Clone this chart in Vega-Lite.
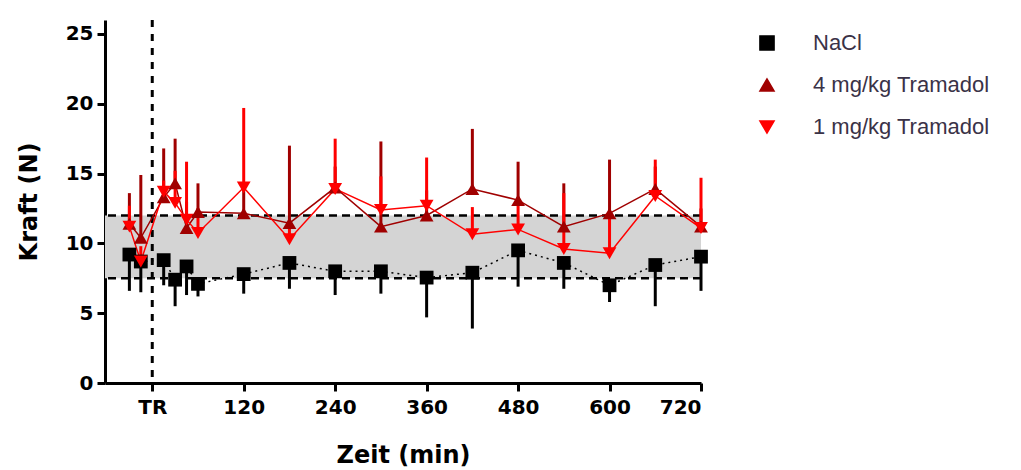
{
  "$schema": "https://vega.github.io/schema/vega-lite/v6.json",
  "width": 596,
  "height": 363,
  "autosize": "none",
  "padding": {"left": 105, "top": 20, "right": 320, "bottom": 87},
  "background": "white",
  "config": {
    "view": {"stroke": null},
    "axis": {
      "grid": false,
      "domainColor": "black",
      "domainWidth": 3,
      "tickColor": "black",
      "tickWidth": 3,
      "tickSize": 8,
      "labelFont": "DejaVu Sans",
      "labelFontWeight": "bold",
      "labelFontSize": 20,
      "labelColor": "black",
      "titleFont": "DejaVu Sans",
      "titleFontWeight": "bold",
      "titleFontSize": 24,
      "titleColor": "black"
    },
    "legend": {
      "orient": "none", "legendX": 651, "legendY": 12, "padding": 0,
      "symbolSize": 200,
      "labelFont": "Liberation Sans", "labelFontSize": 22, "labelColor": "#3a3247",
      "labelOffset": 35, "rowPadding": 20, "labelLimit": 400
    }
  },
  "datasets": {
    "series": [
      {"series": "NaCl", "t": -30, "mean": 9.2, "err": 6.6},
      {"series": "NaCl", "t": -15, "mean": 8.7, "err": 6.5},
      {"series": "NaCl", "t": 15, "mean": 8.8, "err": 7.0},
      {"series": "NaCl", "t": 30, "mean": 7.4, "err": 5.5},
      {"series": "NaCl", "t": 45, "mean": 8.35, "err": 6.3},
      {"series": "NaCl", "t": 60, "mean": 7.1, "err": 6.2},
      {"series": "NaCl", "t": 120, "mean": 7.8, "err": 6.4},
      {"series": "NaCl", "t": 180, "mean": 8.6, "err": 6.75},
      {"series": "NaCl", "t": 240, "mean": 8.0, "err": 6.3},
      {"series": "NaCl", "t": 300, "mean": 8.0, "err": 6.4},
      {"series": "NaCl", "t": 360, "mean": 7.55, "err": 4.7},
      {"series": "NaCl", "t": 420, "mean": 7.9, "err": 3.9},
      {"series": "NaCl", "t": 480, "mean": 9.5, "err": 6.9},
      {"series": "NaCl", "t": 540, "mean": 8.6, "err": 6.75},
      {"series": "NaCl", "t": 600, "mean": 7.0, "err": 5.8},
      {"series": "NaCl", "t": 660, "mean": 8.45, "err": 5.5},
      {"series": "NaCl", "t": 720, "mean": 9.05, "err": 6.6},
      {"series": "4 mg/kg Tramadol", "t": -30, "mean": 11.4, "err": 13.6},
      {"series": "4 mg/kg Tramadol", "t": -15, "mean": 10.4, "err": 14.9},
      {"series": "4 mg/kg Tramadol", "t": 15, "mean": 13.3, "err": 16.8},
      {"series": "4 mg/kg Tramadol", "t": 30, "mean": 14.3, "err": 17.5},
      {"series": "4 mg/kg Tramadol", "t": 45, "mean": 11.1, "err": 13.0},
      {"series": "4 mg/kg Tramadol", "t": 60, "mean": 12.25, "err": 14.3},
      {"series": "4 mg/kg Tramadol", "t": 120, "mean": 12.15, "err": 14.0},
      {"series": "4 mg/kg Tramadol", "t": 180, "mean": 11.45, "err": 17.0},
      {"series": "4 mg/kg Tramadol", "t": 240, "mean": 14.0, "err": 15.5},
      {"series": "4 mg/kg Tramadol", "t": 300, "mean": 11.2, "err": 17.3},
      {"series": "4 mg/kg Tramadol", "t": 360, "mean": 12.0, "err": 13.8},
      {"series": "4 mg/kg Tramadol", "t": 420, "mean": 13.9, "err": 18.2},
      {"series": "4 mg/kg Tramadol", "t": 480, "mean": 13.1, "err": 15.85},
      {"series": "4 mg/kg Tramadol", "t": 540, "mean": 11.2, "err": 14.3},
      {"series": "4 mg/kg Tramadol", "t": 600, "mean": 12.15, "err": 16.0},
      {"series": "4 mg/kg Tramadol", "t": 660, "mean": 13.9, "err": 15.5},
      {"series": "4 mg/kg Tramadol", "t": 720, "mean": 11.2, "err": 12.5},
      {"series": "1 mg/kg Tramadol", "t": -30, "mean": 11.2, "err": 12.7},
      {"series": "1 mg/kg Tramadol", "t": -15, "mean": 8.7, "err": 9.8},
      {"series": "1 mg/kg Tramadol", "t": 15, "mean": 13.7, "err": 14.5},
      {"series": "1 mg/kg Tramadol", "t": 30, "mean": 12.9, "err": 15.2},
      {"series": "1 mg/kg Tramadol", "t": 45, "mean": 11.7, "err": 15.85},
      {"series": "1 mg/kg Tramadol", "t": 60, "mean": 10.75, "err": 12.5},
      {"series": "1 mg/kg Tramadol", "t": 120, "mean": 14.0, "err": 19.7},
      {"series": "1 mg/kg Tramadol", "t": 180, "mean": 10.3, "err": 11.5},
      {"series": "1 mg/kg Tramadol", "t": 240, "mean": 13.9, "err": 17.5},
      {"series": "1 mg/kg Tramadol", "t": 300, "mean": 12.4, "err": 14.8},
      {"series": "1 mg/kg Tramadol", "t": 360, "mean": 12.7, "err": 16.15},
      {"series": "1 mg/kg Tramadol", "t": 420, "mean": 10.65, "err": 12.6},
      {"series": "1 mg/kg Tramadol", "t": 480, "mean": 11.0, "err": 13.3},
      {"series": "1 mg/kg Tramadol", "t": 540, "mean": 9.6, "err": 13.6},
      {"series": "1 mg/kg Tramadol", "t": 600, "mean": 9.3, "err": 12.2},
      {"series": "1 mg/kg Tramadol", "t": 660, "mean": 13.4, "err": 16.0},
      {"series": "1 mg/kg Tramadol", "t": 720, "mean": 11.1, "err": 14.7}
    ],
    "band": [{"lo": 7.5, "hi": 12}],
    "refs": [{"v": 7.5}, {"v": 12}],
    "tr": [{"t": 0}]
  },
  "encoding": {
    "x": {
      "field": "t", "type": "quantitative",
      "scale": {"domain": [-62, 720], "nice": false, "zero": false},
      "axis": {
        "values": [0, 120, 240, 360, 480, 600, 720],
        "labelExpr": "datum.value == 0 ? 'TR' : datum.label",
        "title": "Zeit (min)",
        "labelPadding": 6,
        "titlePadding": 26
      }
    }
  },
  "layer": [
    {
      "data": {"name": "band"},
      "mark": {"type": "rect", "color": "#d4d4d4"},
      "encoding": {
        "x": null,
        "y": {"field": "lo", "type": "quantitative", "scale": {"domain": [0, 25]},
          "axis": {"values": [0, 5, 10, 15, 20, 25], "title": "Kraft (N)", "labelPadding": 4, "titlePadding": 24}},
        "y2": {"field": "hi"}
      }
    },
    {
      "data": {"name": "refs"},
      "mark": {"type": "rule", "color": "black", "strokeWidth": 2.5, "strokeDash": [8, 5]},
      "encoding": {"x": null, "y": {"field": "v", "type": "quantitative"}}
    },
    {
      "data": {"name": "tr"},
      "mark": {"type": "rule", "color": "black", "strokeWidth": 3, "strokeDash": [7, 7]},
      "encoding": {"x": {"field": "t", "type": "quantitative"}}
    },
    {
      "data": {"name": "series"},
      "transform": [{"filter": "datum.series == 'NaCl'"}],
      "mark": {"type": "line", "color": "black", "strokeWidth": 1.5, "strokeDash": [2, 4]},
      "encoding": {"y": {"field": "mean", "type": "quantitative"}}
    },
    {
      "data": {"name": "series"},
      "transform": [{"filter": "datum.series != 'NaCl'"}],
      "mark": {"type": "line", "strokeWidth": 1.5},
      "encoding": {
        "y": {"field": "mean", "type": "quantitative"},
        "color": {"field": "series", "type": "nominal",
          "scale": {"domain": ["NaCl", "4 mg/kg Tramadol", "1 mg/kg Tramadol"], "range": ["#000000", "#a00000", "#ff0000"]}}
      }
    },
    {
      "data": {"name": "series"},
      "mark": {"type": "rule", "strokeWidth": 3},
      "encoding": {
        "y": {"field": "mean", "type": "quantitative"},
        "y2": {"field": "err"},
        "color": {"field": "series", "type": "nominal"}
      }
    },
    {
      "data": {"name": "series"},
      "mark": {"type": "point", "filled": true, "opacity": 1, "size": 190},
      "encoding": {
        "y": {"field": "mean", "type": "quantitative"},
        "color": {"field": "series", "type": "nominal",
          "legend": {"title": null,
            "encode": {"symbols": {"update": {
              "size": {"value": 200},
              "opacity": {"value": 1},
              "fill": {"scale": "color", "field": "value"}}}}}},
        "shape": {"field": "series", "type": "nominal", "legend": null,
          "scale": {"domain": ["NaCl", "4 mg/kg Tramadol", "1 mg/kg Tramadol"], "range": ["square", "triangle-up", "triangle-down"]}}
      }
    }
  ]
}
